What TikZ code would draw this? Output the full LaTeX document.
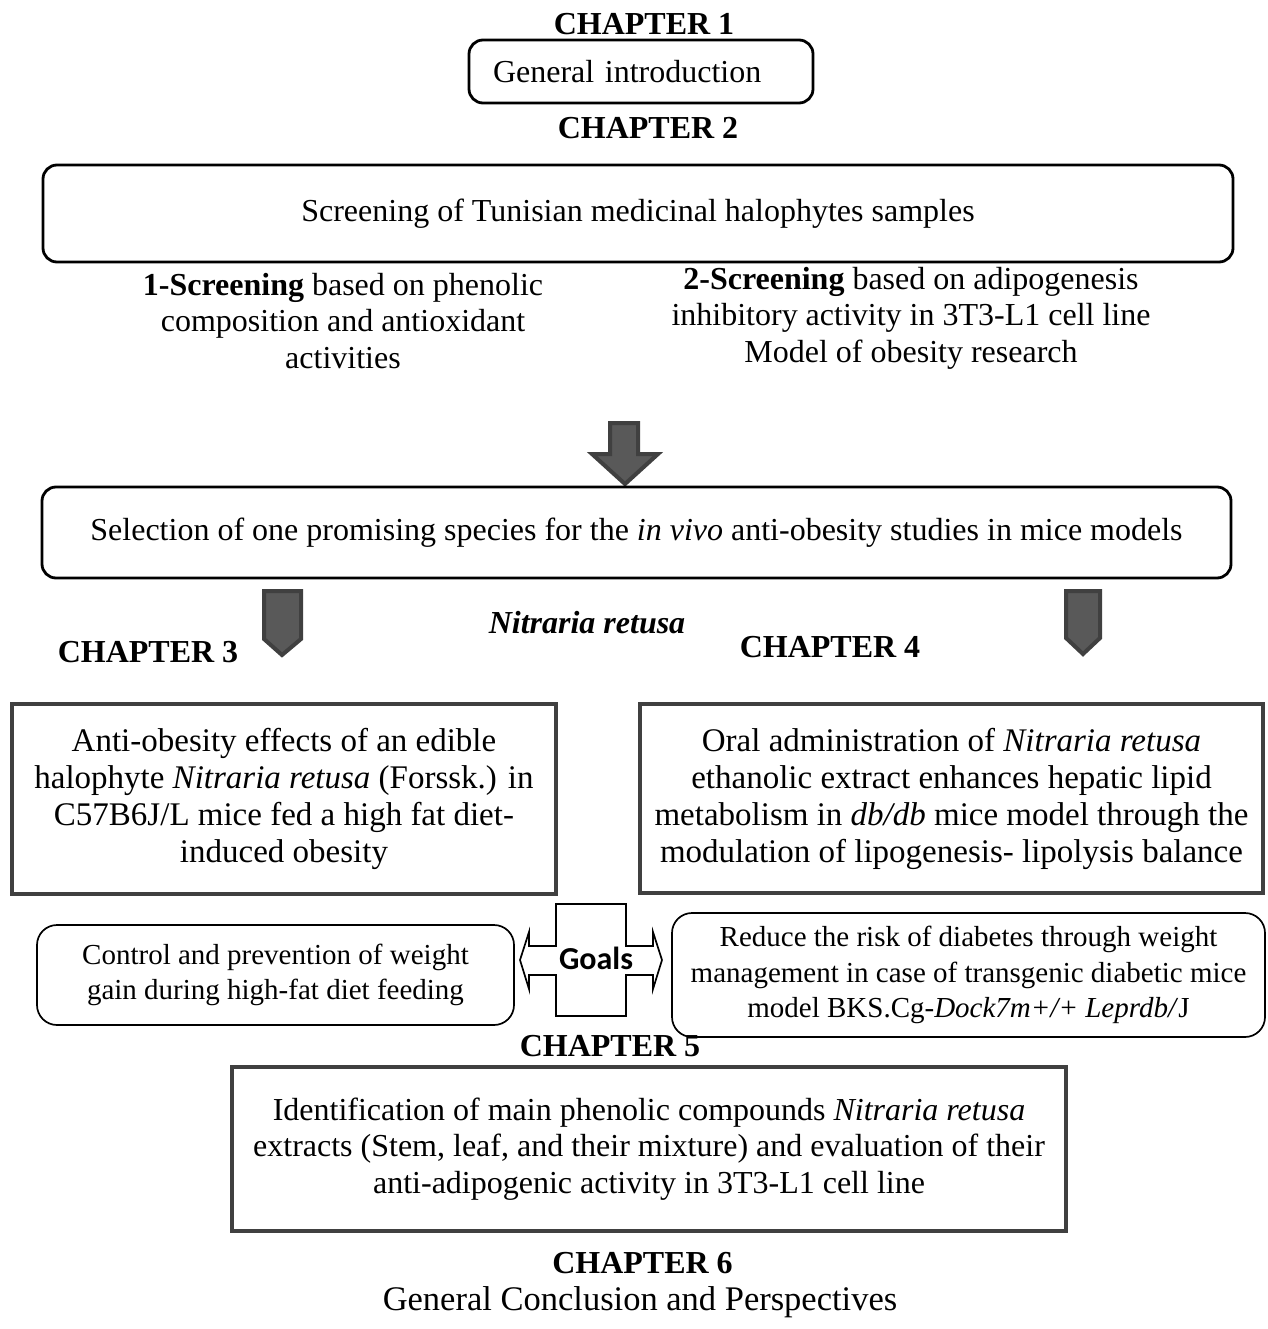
\documentclass[tikz,border=0pt]{standalone}
\usepackage{fontspec}
\setmainfont{Liberation Serif}
\newfontfamily\goalsfont{Carlito}
\usetikzlibrary{positioning}

\definecolor{arrowfill}{RGB}{89,89,89}
\definecolor{arrowline}{RGB}{64,64,64}
\newcommand{\bodyfont}{\fontsize{32}{36.5}\selectfont}
\newcommand{\boxfont}{\fontsize{33}{37}\selectfont}
\newcommand{\goalfont}{\fontsize{29}{35.5}\selectfont}

\tikzset{
  chap/.style={font=\bodyfont\bfseries, inner sep=0pt},
  plain/.style={font=\bodyfont, align=center, inner sep=0pt},
  rbox/.style={draw=black, line width=2.8pt, rounded corners=14pt, align=center, font=\bodyfont},
  sbox/.style={draw=arrowline, line width=3.4pt, align=center, font=\boxfont},
  gbox/.style={draw=black, line width=1.7pt, rounded corners=20pt, align=center, font=\goalfont},
  blockarrow/.style={fill=arrowfill, draw=arrowline, line width=4pt, line join=miter},
}

\begin{document}
\begin{tikzpicture}[x=1pt,y=-1pt]
  \useasboundingbox (0,0) rectangle (1267,1329);

  % chapter 1 and 2
  \node[chap] (c1) at (644,24.5) {CHAPTER 1};
  \node[rbox, minimum width=344, minimum height=63, text width=296, inner xsep=24, align=left] (intro) at (641,71.5) {General introduction};
  \node[chap] (c2) at (648,128) {CHAPTER 2};
  \node[rbox, minimum width=1190, minimum height=97] (screen) at (638,213.5) {Screening of Tunisian medicinal halophytes samples};
  \node[plain] (s1) at (343,321) {\textbf{1-Screening} based on phenolic\\composition and antioxidant\\activities};
  \node[plain] (s2) at (911,318) {\textbf{2-Screening} based on adipogenesis\\inhibitory activity in 3T3-L1 cell line\\Model of obesity research};

  % selection
  \filldraw[blockarrow] (610,423) -- (638,423) -- (638,454) -- (658,454) -- (625,484) -- (592,454) -- (610,454) -- cycle;
  \node[rbox, minimum width=1189, minimum height=91] (sel) at (636.5,532.5) {Selection of one promising species for the \textit{in vivo} anti-obesity studies in mice models};
  \filldraw[blockarrow] (264,591) -- (301,591) -- (301,639) -- (282,655) -- (264,639) -- cycle;
  \filldraw[blockarrow] (1066,591) -- (1100,591) -- (1100,638) -- (1083,654) -- (1066,638) -- cycle;
  \node[chap, font=\bodyfont\bfseries\itshape] (nr) at (587,623) {Nitraria retusa};
  \node[chap] (c3) at (148,652) {CHAPTER 3};
  \node[chap] (c4) at (830,647) {CHAPTER 4};

  % chapter 3 and 4
  \node[sbox, minimum width=544, minimum height=190] (box3) at (284,799) {Anti-obesity effects of an edible\\halophyte \textit{Nitraria retusa} (Forssk.) in\\C57B6J/L mice fed a high fat diet-\\induced obesity};
  \node[sbox, minimum width=623, minimum height=189] (box4) at (951.5,798.5) {Oral administration of \textit{Nitraria retusa}\\ethanolic extract enhances hepatic lipid\\metabolism in \textit{db/db} mice model through the\\modulation of lipogenesis- lipolysis balance};

  % goals
  \node[font=\bodyfont\goalsfont\bfseries, inner sep=0pt] (goals) at (596,958) {Goals};
  \draw[line width=1.7pt] (556,904) -- (626,904) -- (626,946) -- (653,946) -- (653,932) -- (662,960) -- (653,989) -- (653,975) -- (626,975) -- (626,1016) -- (556,1016) -- (556,975) -- (529,975) -- (529,989) -- (520,960) -- (529,932) -- (529,946) -- (556,946) -- cycle;
  \node[gbox, minimum width=477, minimum height=100] (gl) at (275.5,975) {Control and prevention of weight\\gain during high-fat diet feeding};
  \node[gbox, minimum width=593, minimum height=124] (gr) at (968.5,975) {Reduce the risk of diabetes through weight\\management in case of transgenic diabetic mice\\model BKS.Cg-\textit{Dock7m+/+ Leprdb/}J};

  % chapter 5 and 6
  \node[chap] (c5) at (610,1046.5) {CHAPTER 5};
  \node[sbox, font=\bodyfont, minimum width=834, minimum height=164] (box5) at (649,1149) {Identification of main phenolic compounds \textit{Nitraria retusa}\\extracts (Stem, leaf, and their mixture) and evaluation of their\\anti-adipogenic activity in 3T3-L1 cell line};
  \node[chap] (c6) at (642.5,1263.5) {CHAPTER 6};
  \node[plain, font=\fontsize{34.5}{40}\selectfont] (concl) at (640,1302) {General Conclusion and Perspectives};
\end{tikzpicture}
\end{document}
